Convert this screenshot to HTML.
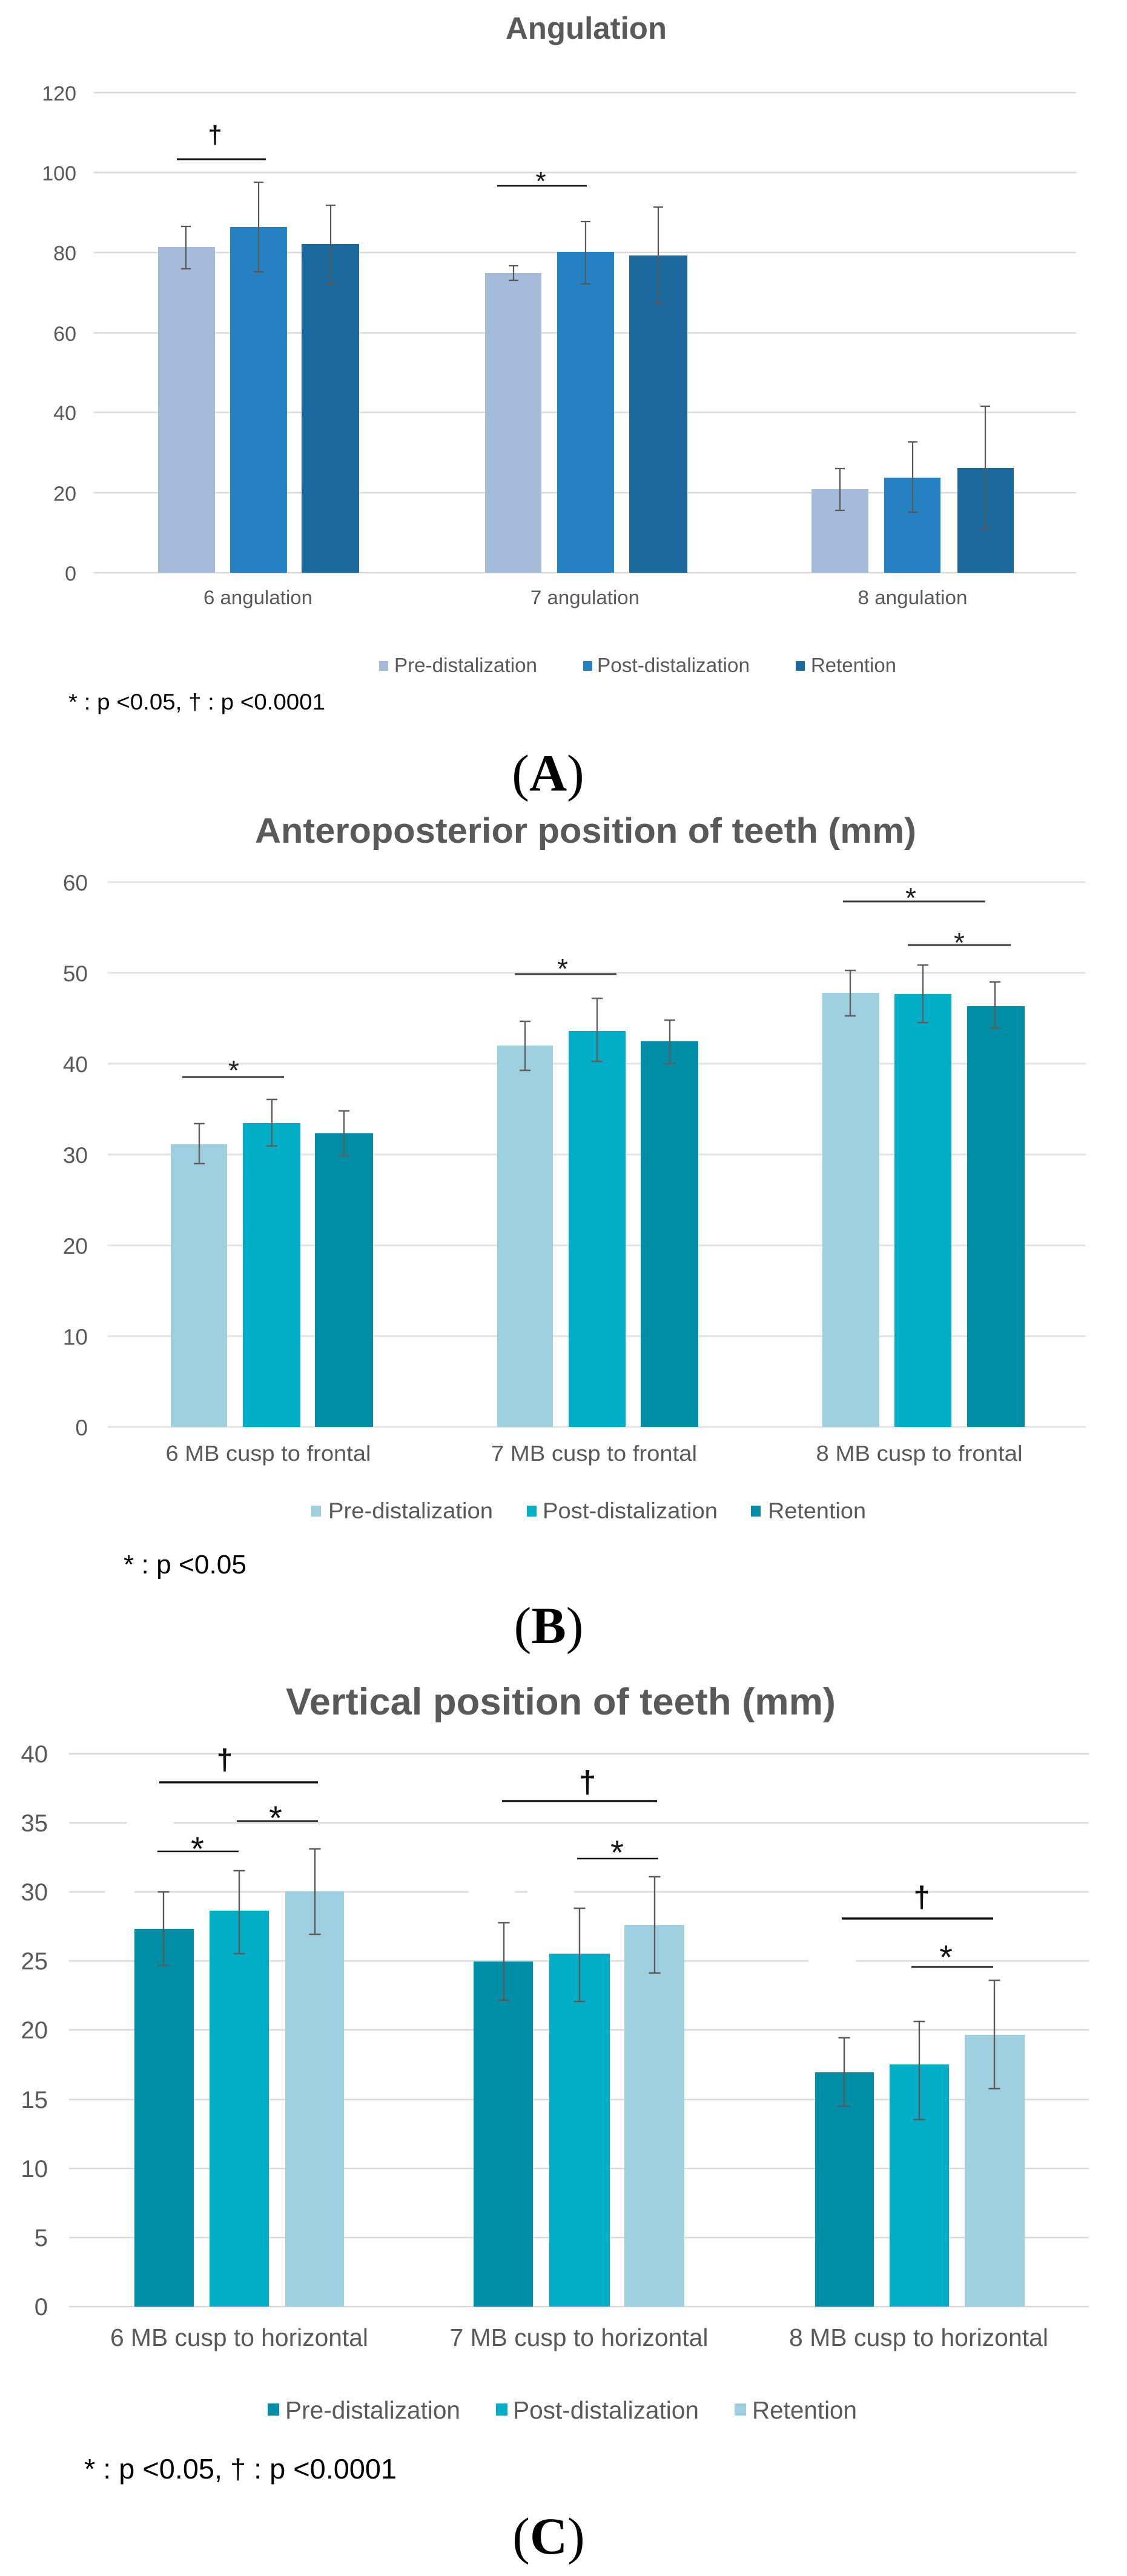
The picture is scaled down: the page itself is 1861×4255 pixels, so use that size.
<!DOCTYPE html>
<html>
<head>
<meta charset="utf-8">
<style>
  html,body{margin:0;padding:0;background:#ffffff;}
  svg{display:block;}
  .t{font-family:"Liberation Sans",Arial,sans-serif;}
  .s{font-family:"Liberation Serif","Times New Roman",serif;}
</style>
</head>
<body>
<svg width="1861" height="4255" viewBox="0 0 1861 4255" xmlns="http://www.w3.org/2000/svg">
<rect x="0" y="0" width="1861" height="4255" fill="#ffffff"/>

<!-- ===================== CHART A ===================== -->
<text class="t" x="968" y="64" font-size="51" font-weight="bold" fill="#595959" text-anchor="middle" textLength="266" lengthAdjust="spacingAndGlyphs">Angulation</text>

<g stroke="#d9d9d9" stroke-width="2.5">
  <line x1="155" y1="153" x2="1777" y2="153"/>
  <line x1="155" y1="285" x2="1777" y2="285"/>
  <line x1="155" y1="417" x2="1777" y2="417"/>
  <line x1="155" y1="550" x2="1777" y2="550"/>
  <line x1="155" y1="681" x2="1777" y2="681"/>
  <line x1="155" y1="814" x2="1777" y2="814"/>
  <line x1="155" y1="946" x2="1777" y2="946"/>
</g>
<g class="t" font-size="34" fill="#595959" text-anchor="end">
  <text x="126" y="166">120</text>
  <text x="126" y="298">100</text>
  <text x="126" y="430">80</text>
  <text x="126" y="563">60</text>
  <text x="126" y="694">40</text>
  <text x="126" y="827">20</text>
  <text x="126" y="959">0</text>
</g>
<!-- bars A -->
<rect x="261" y="408" width="94" height="538" fill="#A6BBDA"/>
<rect x="380" y="375" width="94" height="571" fill="#2581C1"/>
<rect x="498" y="403" width="95" height="543" fill="#1B699F"/>
<rect x="801" y="451" width="93" height="495" fill="#A6BBDA"/>
<rect x="920" y="416" width="94" height="530" fill="#2581C1"/>
<rect x="1039" y="422" width="96" height="524" fill="#1B699F"/>
<rect x="1340" y="808" width="94" height="138" fill="#A6BBDA"/>
<rect x="1460" y="789" width="93" height="157" fill="#2581C1"/>
<rect x="1581" y="773" width="93" height="173" fill="#1B699F"/>
<!-- error bars A -->
<g stroke="#595959" stroke-width="2.2" fill="none">
  <path d="M307 374V444M299 374H315M299 444H315"/>
  <path d="M427 301V449M419 301H435M419 449H435"/>
  <path d="M546 339V469M538 339H554M538 469H554"/>
  <path d="M848 439V463M840 439H856M840 463H856"/>
  <path d="M967 366V469M959 366H975M959 469H975"/>
  <path d="M1087 342V501M1079 342H1095M1079 501H1095"/>
  <path d="M1387 774V843M1379 774H1395M1379 843H1395"/>
  <path d="M1507 730V846M1499 730H1515M1499 846H1515"/>
  <path d="M1627 671V873M1619 671H1635M1619 873H1635"/>
</g>
<!-- significance A -->
<line x1="292" y1="263" x2="439" y2="263" stroke="#111" stroke-width="3"/>
<text class="t" x="355" y="237" font-size="42" font-weight="bold" fill="#111" text-anchor="middle">†</text>
<line x1="821" y1="307" x2="969" y2="307" stroke="#111" stroke-width="2.5"/>
<text class="t" x="893" y="314" font-size="44" fill="#111" text-anchor="middle">*</text>

<g class="t" font-size="32" fill="#595959" text-anchor="middle">
  <text x="426" y="998" textLength="180" lengthAdjust="spacingAndGlyphs">6 angulation</text>
  <text x="966" y="998" textLength="180" lengthAdjust="spacingAndGlyphs">7 angulation</text>
  <text x="1507" y="998" textLength="181" lengthAdjust="spacingAndGlyphs">8 angulation</text>
</g>
<!-- legend A -->
<rect x="626" y="1092" width="15" height="16" fill="#A6BBDA"/>
<rect x="963" y="1092" width="15" height="16" fill="#2581C1"/>
<rect x="1314" y="1092" width="15" height="16" fill="#1B699F"/>
<g class="t" font-size="33" fill="#595959">
  <text x="651" y="1110" textLength="236" lengthAdjust="spacingAndGlyphs">Pre-distalization</text>
  <text x="986" y="1110" textLength="252" lengthAdjust="spacingAndGlyphs">Post-distalization</text>
  <text x="1339" y="1110" textLength="141" lengthAdjust="spacingAndGlyphs">Retention</text>
</g>
<text class="t" x="113" y="1172" font-size="37" fill="#000" textLength="424" lengthAdjust="spacingAndGlyphs">* : p &lt;0.05, † : p &lt;0.0001</text>
<text class="s" x="905" y="1306" font-size="86" fill="#000" text-anchor="middle">(<tspan font-weight="bold">A</tspan>)</text>

<!-- ===================== CHART B ===================== -->
<text class="t" x="967" y="1392" font-size="58" font-weight="bold" fill="#595959" text-anchor="middle" textLength="1092" lengthAdjust="spacingAndGlyphs">Anteroposterior position of teeth (mm)</text>

<g stroke="#e3e3e3" stroke-width="3">
  <line x1="178" y1="1457" x2="1793" y2="1457"/>
  <line x1="178" y1="1607" x2="1793" y2="1607"/>
  <line x1="178" y1="1757" x2="1793" y2="1757"/>
  <line x1="178" y1="1907" x2="1793" y2="1907"/>
  <line x1="178" y1="2057" x2="1793" y2="2057"/>
  <line x1="178" y1="2207" x2="1793" y2="2207"/>
  <line x1="178" y1="2357" x2="1793" y2="2357"/>
</g>
<g class="t" font-size="37" fill="#595959" text-anchor="end">
  <text x="145" y="1471">60</text>
  <text x="145" y="1621">50</text>
  <text x="145" y="1771">40</text>
  <text x="145" y="1921">30</text>
  <text x="145" y="2071">20</text>
  <text x="145" y="2221">10</text>
  <text x="145" y="2371">0</text>
</g>
<!-- bars B -->
<rect x="282" y="1890" width="93" height="467" fill="#9DCFDE"/>
<rect x="401" y="1855" width="95" height="502" fill="#00AEC7"/>
<rect x="520" y="1872" width="96" height="485" fill="#008EA6"/>
<rect x="821" y="1727" width="92" height="630" fill="#9DCFDE"/>
<rect x="939" y="1703" width="94" height="654" fill="#00AEC7"/>
<rect x="1058" y="1720" width="95" height="637" fill="#008EA6"/>
<rect x="1358" y="1640" width="94" height="717" fill="#9DCFDE"/>
<rect x="1477" y="1642" width="94" height="715" fill="#00AEC7"/>
<rect x="1597" y="1662" width="95" height="695" fill="#008EA6"/>
<!-- error bars B -->
<g stroke="#5f5f5f" stroke-width="2.4" fill="none">
  <path d="M329 1856V1922M320 1856H338M320 1922H338"/>
  <path d="M449 1816V1893M440 1816H458M440 1893H458"/>
  <path d="M568 1835V1909M559 1835H577M559 1909H577"/>
  <path d="M867 1687V1768M858 1687H876M858 1768H876"/>
  <path d="M986 1649V1753M977 1649H995M977 1753H995"/>
  <path d="M1106 1685V1757M1097 1685H1115M1097 1757H1115"/>
  <path d="M1404 1603V1678M1395 1603H1413M1395 1678H1413"/>
  <path d="M1524 1594V1689M1515 1594H1533M1515 1689H1533"/>
  <path d="M1643 1622V1698M1634 1622H1652M1634 1698H1652"/>
</g>
<!-- significance B -->
<g stroke="#3c3c3c" stroke-width="3">
  <line x1="301" y1="1779" x2="469" y2="1779"/>
  <line x1="850" y1="1609" x2="1018" y2="1609"/>
  <line x1="1392" y1="1489" x2="1627" y2="1489"/>
  <line x1="1499" y1="1561" x2="1669" y2="1561"/>
</g>
<g class="t" font-size="46" fill="#222" text-anchor="middle">
  <text x="386" y="1784">*</text>
  <text x="929" y="1616">*</text>
  <text x="1504" y="1499">*</text>
  <text x="1584" y="1573">*</text>
</g>
<g class="t" font-size="36" fill="#595959" text-anchor="middle">
  <text x="443" y="2413" textLength="339" lengthAdjust="spacingAndGlyphs">6 MB cusp to frontal</text>
  <text x="981" y="2413" textLength="340" lengthAdjust="spacingAndGlyphs">7 MB cusp to frontal</text>
  <text x="1518" y="2413" textLength="341" lengthAdjust="spacingAndGlyphs">8 MB cusp to frontal</text>
</g>
<!-- legend B -->
<rect x="514" y="2487" width="16" height="18" fill="#9DCFDE"/>
<rect x="870" y="2487" width="16" height="18" fill="#00AEC7"/>
<rect x="1240" y="2487" width="16" height="18" fill="#008EA6"/>
<g class="t" font-size="37" fill="#595959">
  <text x="542" y="2508" textLength="272" lengthAdjust="spacingAndGlyphs">Pre-distalization</text>
  <text x="896" y="2508" textLength="289" lengthAdjust="spacingAndGlyphs">Post-distalization</text>
  <text x="1268" y="2508" textLength="162" lengthAdjust="spacingAndGlyphs">Retention</text>
</g>
<text class="t" x="204" y="2599" font-size="44" fill="#000" textLength="203" lengthAdjust="spacingAndGlyphs">* : p &lt;0.05</text>
<text class="s" x="906" y="2714" font-size="86" fill="#000" text-anchor="middle">(<tspan font-weight="bold">B</tspan>)</text>

<!-- ===================== CHART C ===================== -->
<text class="t" x="926" y="2832" font-size="62" font-weight="bold" fill="#595959" text-anchor="middle" textLength="908" lengthAdjust="spacingAndGlyphs">Vertical position of teeth (mm)</text>

<g stroke="#d9d9d9" stroke-width="2.5">
  <line x1="114" y1="2897" x2="1798" y2="2897"/>
  <line x1="114" y1="3011" x2="1798" y2="3011"/>
  <line x1="114" y1="3125" x2="1798" y2="3125"/>
  <line x1="114" y1="3239" x2="1798" y2="3239"/>
  <line x1="114" y1="3353" x2="1798" y2="3353"/>
  <line x1="114" y1="3468" x2="1798" y2="3468"/>
  <line x1="114" y1="3582" x2="1798" y2="3582"/>
  <line x1="114" y1="3696" x2="1798" y2="3696"/>
  <line x1="114" y1="3810" x2="1798" y2="3810"/>
</g>
<!-- gridline gaps (artifacts) -->
<g fill="#ffffff">
  <rect x="209" y="3007" width="78" height="8"/>
  <rect x="173" y="3121" width="49" height="8"/>
  <rect x="774" y="3121" width="76" height="8"/>
  <rect x="871" y="3121" width="77" height="8"/>
  <rect x="1335" y="3235" width="78" height="8"/>
</g>
<g class="t" font-size="40" fill="#595959" text-anchor="end">
  <text x="79" y="2911">40</text>
  <text x="79" y="3025">35</text>
  <text x="79" y="3139">30</text>
  <text x="79" y="3253">25</text>
  <text x="79" y="3367">20</text>
  <text x="79" y="3482">15</text>
  <text x="79" y="3596">10</text>
  <text x="79" y="3710">5</text>
  <text x="79" y="3824">0</text>
</g>
<!-- bars C -->
<rect x="222" y="3186" width="98" height="624" fill="#008EA6"/>
<rect x="346" y="3156" width="98" height="654" fill="#00AEC7"/>
<rect x="471" y="3124" width="97" height="686" fill="#9DCFDE"/>
<rect x="782" y="3240" width="98" height="570" fill="#008EA6"/>
<rect x="907" y="3227" width="100" height="583" fill="#00AEC7"/>
<rect x="1031" y="3180" width="99" height="630" fill="#9DCFDE"/>
<rect x="1346" y="3423" width="97" height="387" fill="#008EA6"/>
<rect x="1469" y="3410" width="98" height="400" fill="#00AEC7"/>
<rect x="1593" y="3361" width="99" height="449" fill="#9DCFDE"/>
<!-- error bars C -->
<g stroke="#5a5a5a" stroke-width="2.4" fill="none">
  <path d="M270 3125V3247M260.5 3125H279.5M260.5 3247H279.5"/>
  <path d="M395 3090V3227M385.5 3090H404.5M385.5 3227H404.5"/>
  <path d="M520 3054V3195M510.5 3054H529.5M510.5 3195H529.5"/>
  <path d="M832 3176V3304M822.5 3176H841.5M822.5 3304H841.5"/>
  <path d="M957 3152V3306M947.5 3152H966.5M947.5 3306H966.5"/>
  <path d="M1081 3100V3259M1071.5 3100H1090.5M1071.5 3259H1090.5"/>
  <path d="M1394 3366V3479M1384.5 3366H1403.5M1384.5 3479H1403.5"/>
  <path d="M1518 3339V3501M1508.5 3339H1527.5M1508.5 3501H1527.5"/>
  <path d="M1642 3271V3450M1632.5 3271H1651.5M1632.5 3450H1651.5"/>
</g>
<!-- significance C -->
<g stroke="#111" stroke-width="3.5">
  <line x1="263" y1="2944" x2="525" y2="2944"/>
  <line x1="829" y1="2975" x2="1085" y2="2975"/>
  <line x1="1390" y1="3169" x2="1640" y2="3169"/>
</g>
<g stroke="#111" stroke-width="2.5">
  <line x1="391" y1="3008" x2="525" y2="3008"/>
  <line x1="260" y1="3058" x2="394" y2="3058"/>
  <line x1="953" y1="3070" x2="1087" y2="3070"/>
  <line x1="1505" y1="3249" x2="1640" y2="3249"/>
</g>
<g class="t" font-weight="bold" fill="#111" text-anchor="middle">
  <text x="371" y="2923" font-size="48">†</text>
  <text x="970" y="2961" font-size="51">†</text>
  <text x="1522" y="3150" font-size="49">†</text>
</g>
<g class="t" font-size="56" fill="#111" text-anchor="middle">
  <text x="455" y="3022">*</text>
  <text x="326" y="3073">*</text>
  <text x="1019" y="3079">*</text>
  <text x="1562" y="3252">*</text>
</g>
<g class="t" font-size="41" fill="#595959" text-anchor="middle">
  <text x="395" y="3875" textLength="426" lengthAdjust="spacingAndGlyphs">6 MB cusp to horizontal</text>
  <text x="956" y="3875" textLength="427" lengthAdjust="spacingAndGlyphs">7 MB cusp to horizontal</text>
  <text x="1517" y="3875" textLength="428" lengthAdjust="spacingAndGlyphs">8 MB cusp to horizontal</text>
</g>
<!-- legend C -->
<rect x="442" y="3970" width="19" height="20" fill="#008EA6"/>
<rect x="819" y="3970" width="19" height="20" fill="#00AEC7"/>
<rect x="1213" y="3970" width="19" height="20" fill="#9DCFDE"/>
<g class="t" font-size="41" fill="#595959">
  <text x="471" y="3995" textLength="289" lengthAdjust="spacingAndGlyphs">Pre-distalization</text>
  <text x="847" y="3995" textLength="307" lengthAdjust="spacingAndGlyphs">Post-distalization</text>
  <text x="1242" y="3995" textLength="173" lengthAdjust="spacingAndGlyphs">Retention</text>
</g>
<text class="t" x="139" y="4094" font-size="46" fill="#000" textLength="516" lengthAdjust="spacingAndGlyphs">* : p &lt;0.05, † : p &lt;0.0001</text>
<text class="s" x="906" y="4218" font-size="86" fill="#000" text-anchor="middle">(<tspan font-weight="bold">C</tspan>)</text>
</svg>
</body>
</html>
